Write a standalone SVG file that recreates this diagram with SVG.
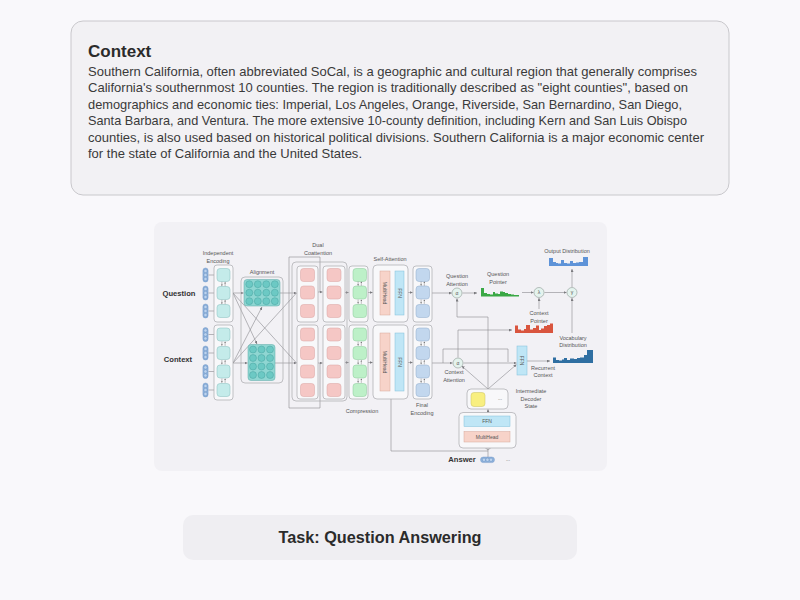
<svg xmlns="http://www.w3.org/2000/svg" xmlns:xlink="http://www.w3.org/1999/xlink" width="800" height="600" viewBox="0 0 800 600">
<defs>
<style>
.body{font-family:"Liberation Sans","Open Sans",sans-serif;font-size:13.2px;fill:#3a3a3a}
.title{font-family:"Liberation Sans",sans-serif;font-size:17px;font-weight:bold;fill:#2b2b2b}
.lbl{font-family:"Liberation Sans",sans-serif;font-size:5.5px;fill:#555;text-anchor:middle}
.big{font-family:"Liberation Sans",sans-serif;font-size:7.6px;font-weight:bold;fill:#333;text-anchor:middle}
.grp{fill:#f8f8fa;stroke:#a9a9ad;stroke-width:0.7}
.cy{fill:#c4ebea;stroke:#86bcbc;stroke-width:0.5}
.pk{fill:#f5c7c5;stroke:#d9a3a0;stroke-width:0.5}
.gr{fill:#bdf0c8;stroke:#88c898;stroke-width:0.5}
.bl{fill:#c2d7ee;stroke:#8eaacb;stroke-width:0.5}
.mh{fill:#f7d3c9;stroke:#d6a89b;stroke-width:0.5}
.ffn{fill:#bfe6f6;stroke:#7fbfd9;stroke-width:0.5}
.in{font-family:"Liberation Sans",sans-serif;font-size:5px;fill:#555;text-anchor:middle}
.ln{fill:none;stroke:#8a8a8e;stroke-width:0.6}
.arr{fill:none;stroke:#8a8a8e;stroke-width:0.6;marker-end:url(#ah)}
.circ{fill:#e4f3ee;stroke:#8e9a96;stroke-width:0.6}
.mat{fill:#8fd6d2;stroke:#5aa9a6;stroke-width:0.5}
.dot{fill:#6cc9c4;stroke:#3f9a97;stroke-width:0.4}
</style>
<marker id="ah" viewBox="0 0 4 4" refX="4" refY="2" markerWidth="3" markerHeight="3" markerUnits="userSpaceOnUse" orient="auto">
<path d="M0,0 L4,2 L0,4 z" fill="#7a7a7e"/>
</marker>
<g id="ud">
<path d="M-1.6,-2.2 V1.2" stroke="#666" stroke-width="0.4"/>
<path d="M-2.4,0.6 L-1.6,2.2 L-0.8,0.6 z" fill="#666"/>
<path d="M1.6,2.2 V-1.2" stroke="#666" stroke-width="0.4"/>
<path d="M0.8,-0.6 L1.6,-2.2 L2.4,-0.6 z" fill="#666"/>
</g>
<g id="emb">
<rect x="-2.6" y="-7" width="5.2" height="14" rx="2.6" fill="#8fb4de" stroke="#6a90c0" stroke-width="0.4"/>
<circle cy="-4" r="1.7" fill="#bcd4ef" stroke="#5f86b8" stroke-width="0.4"/>
<circle cy="0" r="1.7" fill="#bcd4ef" stroke="#5f86b8" stroke-width="0.4"/>
<circle cy="4" r="1.7" fill="#bcd4ef" stroke="#5f86b8" stroke-width="0.4"/>
</g>
</defs>

<rect width="800" height="600" fill="#f9f8fb"/>

<g id="context-box">
<rect x="71" y="21" width="658" height="174" rx="12" fill="#f2f1f4" stroke="#c9c8cc" stroke-width="1"/>
<text class="title" x="88" y="57">Context</text>
<text class="body" x="88" y="76" textLength="609" lengthAdjust="spacingAndGlyphs">Southern California, often abbreviated SoCal, is a geographic and cultural region that generally comprises</text>
<text class="body" x="88" y="92.4" textLength="600" lengthAdjust="spacingAndGlyphs">California's southernmost 10 counties. The region is traditionally described as "eight counties", based on</text>
<text class="body" x="88" y="108.8" textLength="594" lengthAdjust="spacingAndGlyphs">demographics and economic ties: Imperial, Los Angeles, Orange, Riverside, San Bernardino, San Diego,</text>
<text class="body" x="88" y="125.2" textLength="599" lengthAdjust="spacingAndGlyphs">Santa Barbara, and Ventura. The more extensive 10-county definition, including Kern and San Luis Obispo</text>
<text class="body" x="88" y="141.6" textLength="616" lengthAdjust="spacingAndGlyphs">counties, is also used based on historical political divisions. Southern California is a major economic center</text>
<text class="body" x="88" y="158" textLength="274" lengthAdjust="spacingAndGlyphs">for the state of California and the United States.</text>
</g>

<g id="panel">
<rect x="154" y="222" width="453" height="249" rx="8" fill="#f2f1f5"/>
</g>

<g id="task">
<rect x="183" y="515" width="394" height="45" rx="10" fill="#efeef2"/>
<text class="title" x="380" y="543" text-anchor="middle" textLength="203" lengthAdjust="spacingAndGlyphs">Task: Question Answering</text>
</g>

<g id="connectors">
<!-- embeddings to encoders -->
<path class="ln" d="M208.5,275 H214 M208.5,293 H214 M208.5,311 H214 M208.5,334.5 H214 M208.5,353 H214 M208.5,371.5 H214 M208.5,390 H214"/>
<!-- alignment crossings -->
<path class="arr" d="M233,293 H243.5"/>
<path class="arr" d="M233,363 H247.5"/>
<path class="ln" d="M233,293 L296.5,363"/>
<path class="ln" d="M233,363 L296.5,293"/>
<path class="arr" d="M233,293 L257,344"/>
<path class="arr" d="M233,363 L262,307"/>
<path class="arr" d="M280,293 H296.5"/>
<path class="arr" d="M275,363 H296.5"/>
<!-- coattention skips -->
<path class="ln" d="M289,408 V257 H320 V292"/>
<path class="ln" d="M289,408 H320 V363"/>
<path class="arr" d="M317.5,292 H322.5"/>
<path class="arr" d="M317.5,363 H322.5"/>
<!-- to compression / self attention / final -->
<path class="arr" d="M345,292.5 H348.7"/>
<path class="arr" d="M345,362.5 H348.7"/>
<path class="arr" d="M368,292.5 H372.7"/>
<path class="arr" d="M368,362.5 H372.7"/>
<path class="arr" d="M374,292.5 L379.7,280"/>
<path class="arr" d="M374,292.5 H379.7"/>
<path class="arr" d="M374,292.5 L379.7,305"/>
<path class="arr" d="M374,362.5 L379.7,350"/>
<path class="arr" d="M374,362.5 H379.7"/>
<path class="arr" d="M374,362.5 L379.7,375"/>
<path class="arr" d="M390,292.5 H394.7"/>
<path class="arr" d="M390,362.5 H394.7"/>
<path class="arr" d="M408,292.5 H412.7"/>
<path class="arr" d="M408,362.5 H412.7"/>
<!-- question side -->
<path class="arr" d="M432,293 H451.8"/>
<path class="arr" d="M462.5,293 H477"/>
<path class="arr" d="M522,292.5 H533.5"/>
<path class="arr" d="M544.5,292.5 H566.5"/>
<path class="arr" d="M572,287 V269"/>
<path class="arr" d="M539,309 V298"/>
<path class="arr" d="M572,333 V298"/>
<!-- decoder state to attentions -->
<path class="arr" d="M488,389 V317 H457 V298.5"/>
<path class="arr" d="M488,389 L461.8,366"/>
<path class="arr" d="M488,389 L516.5,364.5"/>
<!-- context side -->
<path class="arr" d="M432,363 H452.5"/>
<path class="ln" d="M443,363 V349 H508 V362"/>
<path class="arr" d="M463.5,363 H516.5"/>
<path class="arr" d="M458,357.5 V330 H512"/>
<path class="arr" d="M527,361 H550"/>
<!-- decoder -->
<path class="arr" d="M485,399.5 H494"/>
<path class="arr" d="M488,413 V409.3"/>
<path class="ln" d="M391,398 V451 H488 M488,457 V450"/>
<path class="arr" d="M488,450 L479,442.6"/>
<path class="arr" d="M488,450 V442.6"/>
<path class="arr" d="M488,450 L497,442.6"/>
</g>

<g id="independent-encoding">
<text class="lbl" x="218" y="255">Independent</text>
<text class="lbl" x="218" y="262.5">Encoding</text>
<text class="big" x="179" y="296">Question</text>
<text class="big" x="178" y="362" style="font-weight:600">Context</text>
<use xlink:href="#emb" x="205.5" y="275"/><use xlink:href="#emb" x="205.5" y="293"/><use xlink:href="#emb" x="205.5" y="311"/>
<use xlink:href="#emb" x="205.5" y="334.5"/><use xlink:href="#emb" x="205.5" y="353"/><use xlink:href="#emb" x="205.5" y="371.5"/><use xlink:href="#emb" x="205.5" y="390"/>
<rect class="grp" x="214" y="265" width="19" height="57" rx="3"/>
<rect class="grp" x="214" y="325" width="19" height="75" rx="3"/>
<rect class="cy" x="217" y="268.5" width="13" height="13" rx="3"/>
<rect class="cy" x="217" y="286.5" width="13" height="13" rx="3"/>
<rect class="cy" x="217" y="304.5" width="13" height="13" rx="3"/>
<rect class="cy" x="217" y="328" width="13" height="13" rx="3"/>
<rect class="cy" x="217" y="346.5" width="13" height="13" rx="3"/>
<rect class="cy" x="217" y="365" width="13" height="13" rx="3"/>
<rect class="cy" x="217" y="383.5" width="13" height="13" rx="3"/>
<use xlink:href="#ud" x="223.5" y="284"/><use xlink:href="#ud" x="223.5" y="302"/>
<use xlink:href="#ud" x="223.5" y="343.7"/><use xlink:href="#ud" x="223.5" y="362.2"/><use xlink:href="#ud" x="223.5" y="380.7"/>
</g>

<g id="alignment">
<text class="lbl" x="262" y="274">Alignment</text>
<rect class="grp" x="241" y="277" width="42" height="106" rx="4" fill-opacity="0"/>
<rect class="mat" x="244" y="279.5" width="36" height="26.5" rx="3"/>
<g class="dot">
<circle cx="249.3" cy="284.2" r="3.5"/><circle cx="257.8" cy="284.2" r="3.5"/><circle cx="266.3" cy="284.2" r="3.5"/><circle cx="274.8" cy="284.2" r="3.5"/>
<circle cx="249.3" cy="292.7" r="3.5"/><circle cx="257.8" cy="292.7" r="3.5"/><circle cx="266.3" cy="292.7" r="3.5"/><circle cx="274.8" cy="292.7" r="3.5"/>
<circle cx="249.3" cy="301.2" r="3.5"/><circle cx="257.8" cy="301.2" r="3.5"/><circle cx="266.3" cy="301.2" r="3.5"/><circle cx="274.8" cy="301.2" r="3.5"/>
</g>
<rect class="mat" x="248" y="344.5" width="27" height="36" rx="3"/>
<g class="dot">
<circle cx="253" cy="349.5" r="3.5"/><circle cx="261.5" cy="349.5" r="3.5"/><circle cx="270" cy="349.5" r="3.5"/>
<circle cx="253" cy="358" r="3.5"/><circle cx="261.5" cy="358" r="3.5"/><circle cx="270" cy="358" r="3.5"/>
<circle cx="253" cy="366.5" r="3.5"/><circle cx="261.5" cy="366.5" r="3.5"/><circle cx="270" cy="366.5" r="3.5"/>
<circle cx="253" cy="375" r="3.5"/><circle cx="261.5" cy="375" r="3.5"/><circle cx="270" cy="375" r="3.5"/>
</g>
</g>

<g id="dual-coattention">
<text class="lbl" x="318" y="247">Dual</text>
<text class="lbl" x="318" y="254.5">Coattention</text>
<rect class="grp" x="292" y="262" width="55" height="139" rx="4" fill-opacity="0"/>
<rect class="grp" x="297" y="266" width="21" height="56" rx="3"/>
<rect class="grp" x="297" y="325" width="21" height="74" rx="3"/>
<rect class="grp" x="323" y="266" width="22" height="56" rx="3"/>
<rect class="grp" x="323" y="325" width="22" height="74" rx="3"/>
<rect class="pk" x="300.5" y="268.5" width="14" height="13" rx="3"/>
<rect class="pk" x="300.5" y="286" width="14" height="13" rx="3"/>
<rect class="pk" x="300.5" y="304.5" width="14" height="13" rx="3"/>
<rect class="pk" x="300.5" y="328" width="14" height="13" rx="3"/>
<rect class="pk" x="300.5" y="346.5" width="14" height="13" rx="3"/>
<rect class="pk" x="300.5" y="365" width="14" height="13" rx="3"/>
<rect class="pk" x="300.5" y="383.5" width="14" height="13" rx="3"/>
<rect class="pk" x="327" y="268.5" width="14" height="13" rx="3"/>
<rect class="pk" x="327" y="286" width="14" height="13" rx="3"/>
<rect class="pk" x="327" y="304.5" width="14" height="13" rx="3"/>
<rect class="pk" x="327" y="328" width="14" height="13" rx="3"/>
<rect class="pk" x="327" y="346.5" width="14" height="13" rx="3"/>
<rect class="pk" x="327" y="365" width="14" height="13" rx="3"/>
<rect class="pk" x="327" y="383.5" width="14" height="13" rx="3"/>
</g>

<g id="compression">
<text class="lbl" x="362" y="413">Compression</text>
<rect class="grp" x="349" y="266" width="19" height="56" rx="3"/>
<rect class="grp" x="349" y="325" width="19" height="74" rx="3"/>
<rect class="gr" x="353" y="268.5" width="13.5" height="13" rx="3"/>
<rect class="gr" x="353" y="286" width="13.5" height="13" rx="3"/>
<rect class="gr" x="353" y="304.5" width="13.5" height="13" rx="3"/>
<rect class="gr" x="353" y="328" width="13.5" height="13" rx="3"/>
<rect class="gr" x="353" y="346.5" width="13.5" height="13" rx="3"/>
<rect class="gr" x="353" y="365" width="13.5" height="13" rx="3"/>
<rect class="gr" x="353" y="383.5" width="13.5" height="13" rx="3"/>
<use xlink:href="#ud" x="359.7" y="283.7"/><use xlink:href="#ud" x="359.7" y="301.7"/>
<use xlink:href="#ud" x="359.7" y="343.7"/><use xlink:href="#ud" x="359.7" y="362.2"/><use xlink:href="#ud" x="359.7" y="380.7"/>
</g>

<g id="self-attention">
<text class="lbl" x="390" y="261">Self-Attention</text>
<rect class="grp" x="373" y="265" width="35" height="57" rx="4"/>
<rect class="grp" x="373" y="325" width="35" height="74" rx="4"/>
<rect class="mh" x="380" y="271" width="10" height="44"/>
<rect class="ffn" x="395" y="271" width="9" height="44"/>
<rect class="mh" x="380" y="333" width="10" height="58"/>
<rect class="ffn" x="395" y="333" width="9" height="58"/>
<text class="in" transform="translate(385,293) rotate(90)" dy="1.7">MultiHead</text>
<text class="in" transform="translate(399.5,293) rotate(90)" dy="1.7">FFN</text>
<text class="in" transform="translate(385,362) rotate(90)" dy="1.7">MultiHead</text>
<text class="in" transform="translate(399.5,362) rotate(90)" dy="1.7">FFN</text>
</g>

<g id="final-encoding">
<text class="lbl" x="422" y="407">Final</text>
<text class="lbl" x="422" y="414.5">Encoding</text>
<rect class="grp" x="413" y="266" width="19" height="56" rx="3"/>
<rect class="grp" x="413" y="325" width="19" height="74" rx="3"/>
<rect class="bl" x="416" y="268.5" width="13.5" height="13" rx="3"/>
<rect class="bl" x="416" y="286" width="13.5" height="13" rx="3"/>
<rect class="bl" x="416" y="304.5" width="13.5" height="13" rx="3"/>
<rect class="bl" x="416" y="328" width="13.5" height="13" rx="3"/>
<rect class="bl" x="416" y="346.5" width="13.5" height="13" rx="3"/>
<rect class="bl" x="416" y="365" width="13.5" height="13" rx="3"/>
<rect class="bl" x="416" y="383.5" width="13.5" height="13" rx="3"/>
<use xlink:href="#ud" x="422.7" y="283.7"/><use xlink:href="#ud" x="422.7" y="301.7"/>
<use xlink:href="#ud" x="422.7" y="343.7"/><use xlink:href="#ud" x="422.7" y="362.2"/><use xlink:href="#ud" x="422.7" y="380.7"/>
</g>

<g id="question-attention">
<text class="lbl" x="457" y="278">Question</text>
<text class="lbl" x="457" y="285.5">Attention</text>
<circle class="circ" cx="457" cy="293" r="5"/>
<text class="in" x="457" y="294.6">α</text>
</g>

<g id="question-pointer">
<text class="lbl" x="498" y="276">Question</text>
<text class="lbl" x="498" y="283.5">Pointer</text>
<path fill="#3aa845" d="M481,296.5 V288 H484 V293 H487 V294 H490 V294.5 H493 V292 H495 V293.5 H498 V294 H500 V291.5 H503 V292 H505 V293 H508 V294 H511 V294.5 H514 V295 H519 V296.5 Z"/>
</g>

<g id="lambda">
<circle class="circ" cx="539" cy="292.5" r="5"/>
<text class="in" x="539" y="294.2">λ</text>
</g>

<g id="gamma">
<circle class="circ" cx="572" cy="292.5" r="5"/>
<text class="in" x="572" y="294.2">γ</text>
</g>

<g id="output-distribution">
<text class="lbl" x="567" y="253">Output Distribution</text>
<path fill="#5e93d8" d="M549,266 V258 H553 V262 H556 V263 H558 V263.5 H561 V260 H564 V263 H567 V263.5 H570 V261 H573 V263 H576 V262.5 H579 V262 H583 V257 H588 V266 Z"/>
</g>

<g id="context-pointer">
<text class="lbl" x="539" y="315">Context</text>
<text class="lbl" x="539" y="322.5">Pointer</text>
<path fill="#d9553e" d="M515,333 V325.5 H518 V329.5 H521 V330.5 H524 V329 H526 V325 H530 V329.5 H533 V328 H536 V325.5 H539 V330 H541 V328.5 H544 V326 H547 V325 H550 V323.5 H553 V333 Z"/>
</g>

<g id="vocabulary-distribution">
<text class="lbl" x="573" y="339.5">Vocabulary</text>
<text class="lbl" x="573" y="347">Distribution</text>
<path fill="#2f6fa2" d="M553,363 V357.5 H556 V360 H559 V360.5 H562 V359.5 H564 V358 H567 V360 H570 V358.5 H574 V359 H577 V358 H580 V357.5 H584 V355 H587 V350 H593 V363 Z"/>
</g>

<g id="context-attention">
<circle class="circ" cx="458" cy="363" r="5"/>
<text class="in" x="458" y="364.6">α</text>
<text class="lbl" x="454" y="374">Context</text>
<text class="lbl" x="454" y="381.5">Attention</text>
</g>

<g id="recurrent-context">
<rect class="ffn" x="517" y="346" width="10" height="29"/>
<text class="in" transform="translate(522,360.5) rotate(90)" dy="1.7">FFN</text>
<text class="lbl" x="543" y="369.5">Recurrent</text>
<text class="lbl" x="543" y="377">Context</text>
</g>

<g id="decoder-state">
<rect class="grp" x="467" y="389" width="41" height="20" rx="4"/>
<rect x="471" y="392.5" width="14" height="14" rx="3" fill="#f8ef80" stroke="#c9c060" stroke-width="0.5"/>
<text class="in" x="500" y="400" fill="#999">...</text>
<text class="lbl" x="531" y="393">Intermediate</text>
<text class="lbl" x="531" y="400.5">Decoder</text>
<text class="lbl" x="531" y="408">State</text>
</g>

<g id="decoder">
<rect class="grp" x="459" y="412.5" width="57" height="35.5" rx="4"/>
<rect class="ffn" x="464" y="416" width="46" height="10.5"/>
<rect class="mh" x="464" y="431.5" width="46" height="10.5"/>
<text class="in" x="487" y="423">FFN</text>
<text class="in" x="487" y="438.5">MultiHead</text>
</g>

<g id="answer">
<text class="big" x="462" y="462">Answer</text>
<rect x="480.5" y="457" width="14" height="5.6" rx="2.8" fill="#8fb4de" stroke="#6a90c0" stroke-width="0.4"/>
<circle cx="484" cy="459.8" r="1.7" fill="#bcd4ef" stroke="#5f86b8" stroke-width="0.4"/>
<circle cx="487.5" cy="459.8" r="1.7" fill="#bcd4ef" stroke="#5f86b8" stroke-width="0.4"/>
<circle cx="491" cy="459.8" r="1.7" fill="#bcd4ef" stroke="#5f86b8" stroke-width="0.4"/>
<text class="in" x="508" y="461" fill="#999">...</text>
</g>
</svg>
